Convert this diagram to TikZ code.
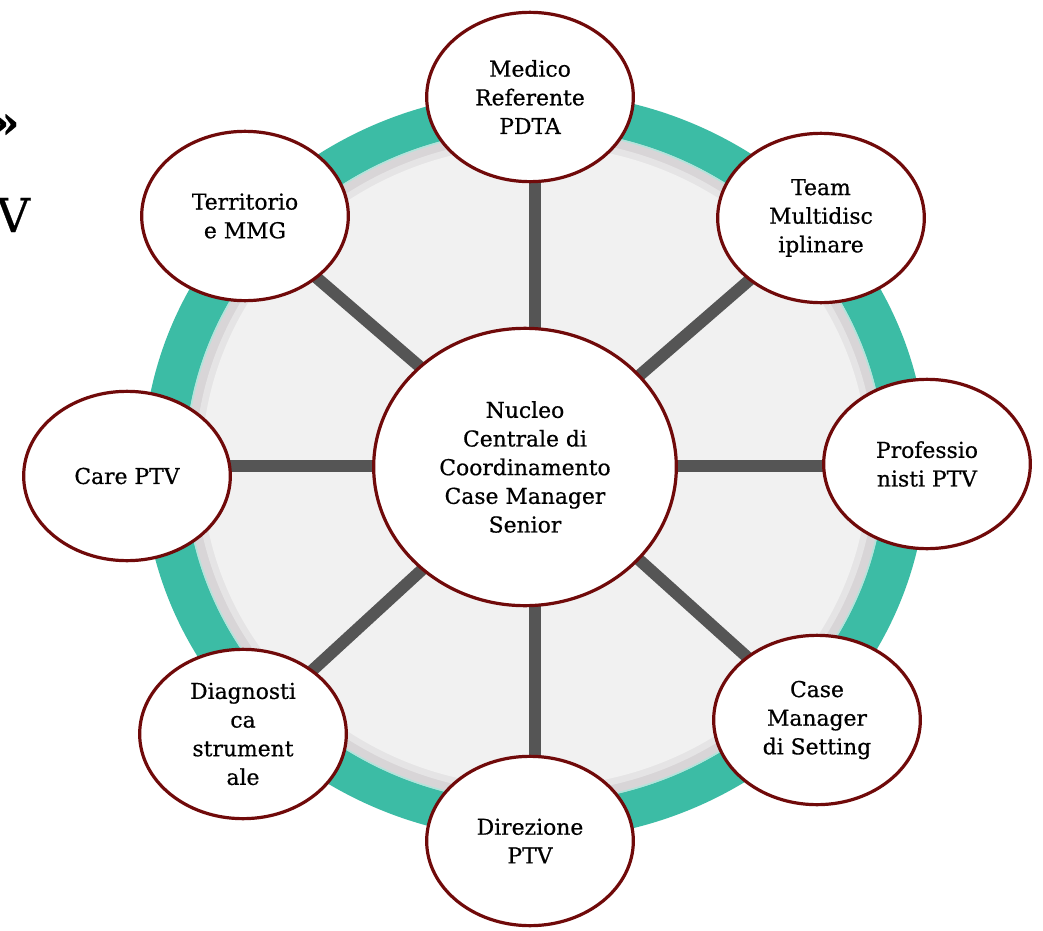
\documentclass[tikz,border=0pt]{standalone}
\usepackage{fontspec}
\setmainfont{DejaVu Serif}[FakeBold=0.6]
\usetikzlibrary{shapes.geometric,backgrounds}

\definecolor{wheelteal}{RGB}{60,188,165}
\definecolor{rimgray}{RGB}{216,213,215}
\definecolor{liprim}{RGB}{229,228,229}
\definecolor{wheelface}{RGB}{241,241,241}
\definecolor{spokegray}{RGB}{85,85,85}
\definecolor{bubbleline}{RGB}{112,10,10}

\tikzset{
    bubble/.style={ellipse, draw=bubbleline, line width=2.4pt, fill=white,
        align=center, inner sep=0pt, minimum width=155pt, minimum height=127pt,
        font=\fontsize{16.4}{21.5}\selectfont},
    hub/.style={bubble, minimum width=227pt, minimum height=208pt},
    spoke/.style={draw=spokegray, line width=9pt},
}

\begin{document}
\begin{tikzpicture}[x=0.75pt, y=-0.75pt]
    \useasboundingbox (0,0) rectangle (1043,931);

    % leftovers of the slide title
    \node[anchor=west, inner sep=0pt, font=\fontsize{34}{34}\bfseries] (quote) at (-9,126) {»};
    \node[anchor=west, inner sep=0pt, font=\fontsize{35}{35}\selectfont] (vee) at (-4,215) {V};

    \coordinate (axle) at (535,466);

    \node[hub] (nucleo) at (525,467) {Nucleo\\Centrale di\\Coordinamento\\Case Manager\\Senior};

    \node[bubble] (medico) at (530,97) {Medico\\Referente\\PDTA};
    \node[bubble] (team) at (821,218) {Team\\Multidisc\\iplinare};
    \node[bubble] (prof) at (927,464) {Professio\\nisti PTV};
    \node[bubble] (casemgr) at (817,720) {Case\\Manager\\di Setting};
    \node[bubble] (direzione) at (530,841) {Direzione\\PTV};
    \node[bubble] (diagn) at (243,734) {Diagnosti\\ca\\strument\\ale};
    \node[bubble] (care) at (127,476) {Care PTV};
    \node[bubble] (territorio) at (245,216) {Territorio\\e MMG};

    \begin{scope}[on background layer]
        % wheel: teal rim, grey lip, pale face
        \fill[wheelteal] (axle) ellipse [x radius=294pt, y radius=280.5pt];
        \fill[rimgray] (axle) ellipse [x radius=262.5pt, y radius=252.75pt];
        \draw[white!60!wheelteal, line width=1.2pt] (axle) ellipse [x radius=262pt, y radius=252.25pt];
        \fill[liprim] (axle) ellipse [x radius=255pt, y radius=245.5pt];
        \fill[wheelface] (axle) ellipse [x radius=250pt, y radius=240.5pt];

        % spokes, straight up/down/across and on the diagonals
        \draw[spoke] (axle |- medico.center) -- (axle |- direzione.center);
        \draw[spoke] (axle -| care.center) -- (axle -| prof.center);
        \foreach \n in {team,casemgr,diagn,territorio}
            \draw[spoke] (axle) -- (\n.center);
    \end{scope}
\end{tikzpicture}
\end{document}
